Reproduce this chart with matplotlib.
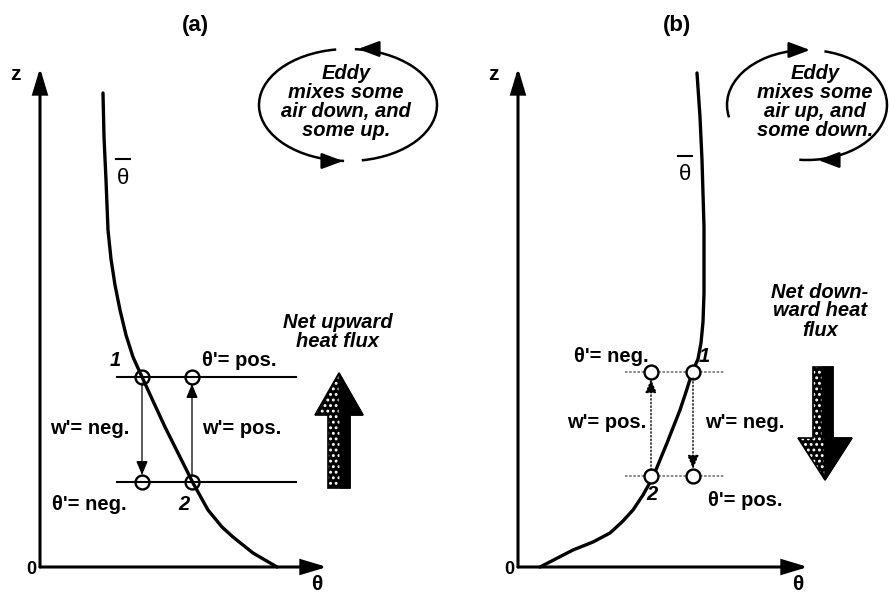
import numpy as np
import matplotlib
matplotlib.use('Agg')
import matplotlib.pyplot as plt
from matplotlib.patches import Arc, Polygon, FancyArrowPatch

plt.rcParams['font.family'] = ['Liberation Sans', 'DejaVu Sans']
plt.rcParams['hatch.linewidth'] = 1.3

# --- data (theta, z in panel units, origin at axis corner) ---
curve_a_theta = [63, 64, 66, 68, 71, 75, 80, 86, 93, 102, 113, 125, 139, 153, 168, 182, 193, 213, 237]
curve_a_z = [474, 430, 387, 337, 308, 282, 257, 232, 210, 190, 166, 140, 112, 84, 57, 40, 30, 14, 0]
curve_b_theta = [179, 182, 184, 186, 186, 185, 183, 180, 174, 168, 162, 149, 135, 125, 115, 104, 92, 75, 55, 22]
curve_b_z = [494, 450, 407, 340, 274, 245, 224, 208, 194, 175, 157, 124, 90, 72, 57, 45, 34, 25, 17, 0]

levels_a = [190, 85]          # z of parcel levels, panel (a)
parcels_a = [102, 152]        # theta of parcels, panel (a)
levels_b = [195, 91]
parcels_b = [133, 175]

titles = ['(a)', '(b)']
eddy_text = ['Eddy\nmixes some\nair down, and\nsome up.',
             'Eddy\nmixes some\nair up, and\nsome down.']
flux_text = ['Net upward\nheat flux', 'Net down-\nward heat\nflux']

W, H = 889, 597
fig = plt.figure(figsize=(W / 100, H / 100), dpi=100)
ax_a = fig.add_axes([0, 0, 440 / W, 1])
ax_b = fig.add_axes([440 / W, 0, 449 / W, 1])
ax_a.set_xlim(-40, 400)
ax_b.set_xlim(-78, 371)
for ax in (ax_a, ax_b):
    ax.set_ylim(-30, 567)
    ax.axis('off')

FS = 14.5
bi = dict(fontweight='bold', fontstyle='italic', fontsize=FS)
bold = dict(fontweight='bold', fontsize=FS)
small_head = dict(arrowstyle='-|>,head_length=0.6,head_width=0.25', color='black',
                  mutation_scale=14, shrinkA=0, shrinkB=0)


def axes_arrows(ax, xtip, ztip):
    for end in [(xtip, 0), (0, ztip)]:
        ax.add_patch(FancyArrowPatch((0, 0), end, arrowstyle='-|>,head_length=1.0,head_width=0.3',
                                     mutation_scale=15, lw=2.2, color='black',
                                     shrinkA=0, shrinkB=0, joinstyle='miter'))
    ax.text(-25, 492, 'z', ha='center', va='center', fontweight='bold', fontsize=15)
    ax.text(-9, -2, '0', ha='center', va='center', fontweight='bold', fontsize=13)
    ax.text(xtip - 10, -18, 'θ', ha='center', va='center', fontsize=15, fontweight='bold')


def eddy(ax, cx, cz, w, h, arcs, heads, text, dx):
    for t1, t2 in arcs:
        ax.add_patch(Arc((cx, cz), w, h, theta1=t1, theta2=t2, lw=1.8, color='black'))
    for (x0, z0), (x1, z1) in heads:
        ax.annotate('', xy=(x1, z1), xytext=(x0, z0),
                    arrowprops=dict(arrowstyle='-|>,head_length=0.8,head_width=0.3',
                                    color='black', lw=1.8, mutation_scale=16,
                                    shrinkA=0, shrinkB=0))
    ax.text(cx + dx, cz + 3, text, ha='center', va='center', linespacing=0.98, **bi)


def big_arrow(ax, x0, x1, hx0, hx1, ztail, zbase, ztip, xsplit):
    xm = (hx0 + hx1) / 2
    pts = [(x0, ztail), (x0, zbase), (hx0, zbase), (xm, ztip), (hx1, zbase), (x1, zbase), (x1, ztail)]
    ax.add_patch(Polygon(pts, closed=True, facecolor='black', edgecolor='none', lw=0))
    ax.add_patch(Polygon(pts, closed=True, facecolor='none', edgecolor='white',
                         hatch='...', lw=0))
    dark = [(xsplit, ztail), (xsplit, zbase), (xm + (xsplit - xm) * 0.3, zbase), (xm, ztip),
            (hx1, zbase), (x1, zbase), (x1, ztail)]
    ax.add_patch(Polygon(dark, closed=True, facecolor='black', edgecolor='black', lw=0.8))
    ax.add_patch(Polygon(pts, closed=True, facecolor='none', edgecolor='black', lw=1.2))


def theta_bar(ax, x, z):
    ax.text(x, z, 'θ', ha='center', va='center', fontsize=16)
    ax.plot([x - 7, x + 7], [z + 19, z + 19], color='black', lw=1.5)


# ---------------- panel (a) ----------------
ax = ax_a
ax.text(155, 542, titles[0], ha='center', va='center', fontweight='bold', fontsize=16)
axes_arrows(ax, 287, 499)
ax.plot(curve_a_theta, curve_a_z, color='black', lw=2.4, solid_capstyle='round',
        solid_joinstyle='round')
theta_bar(ax, 83, 389)
for z in levels_a:
    ax.plot([77, 256], [z, z], color='black', lw=1.5)
    ax.plot(parcels_a, [z, z], 'o', ms=10, mfc='none', mec='black', mew=1.7)
ax.annotate('', xy=(parcels_a[0], levels_a[1] + 7), xytext=(parcels_a[0], levels_a[0] - 6),
            arrowprops=dict(lw=0.9, **small_head))
ax.annotate('', xy=(parcels_a[1], levels_a[0] - 7), xytext=(parcels_a[1], levels_a[1] + 6),
            arrowprops=dict(lw=0.9, **small_head))
ax.text(75, 206, '1', ha='center', va='center', **bi)
ax.text(144, 62, '2', ha='center', va='center', **bi)
ax.text(162, 206, "θ'= pos.", ha='left', va='center', **bold)
ax.text(10, 139, "w'= neg.", ha='left', va='center', **bold)
ax.text(162, 139, "w'= pos.", ha='left', va='center', **bold)
ax.text(12, 62, "θ'= neg.", ha='left', va='center', **bold)
ax.text(298, 235, flux_text[0], ha='center', va='center', linespacing=1.0, **bi)
big_arrow(ax, 288, 310, 275, 323, 79, 152, 194, 300)
eddy(ax, 308, 462, 178, 112, [(284, 443), (102, 266)],
     [((328, 518), (318, 518)), ((294, 406), (303, 406))], eddy_text[0], -2)

# ---------------- panel (b) ----------------
ax = ax_b
ax.text(159, 542, titles[1], ha='center', va='center', fontweight='bold', fontsize=16)
axes_arrows(ax, 290, 499)
ax.plot(curve_b_theta, curve_b_z, color='black', lw=2.4, solid_capstyle='round',
        solid_joinstyle='round')
theta_bar(ax, 167, 392)
for z in levels_b:
    ax.plot([107, 207], [z, z], color='0.45', lw=1.2, ls=(0, (1.5, 1)))
    ax.plot(parcels_b, [z, z], 'o', ms=10, mfc='white', mec='black', mew=1.7)
ax.annotate('', xy=(parcels_b[0], levels_b[0] - 7), xytext=(parcels_b[0], levels_b[1] + 6),
            arrowprops=dict(lw=1.0, ls=':', **small_head))
ax.annotate('', xy=(parcels_b[1], levels_b[1] + 7), xytext=(parcels_b[1], levels_b[0] - 6),
            arrowprops=dict(lw=1.0, ls=':', **small_head))
ax.text(186, 211, '1', ha='center', va='center', **bi)
ax.text(134, 72, '2', ha='center', va='center', **bi)
ax.text(131, 211, "θ'= neg.", ha='right', va='center', **bold)
ax.text(128, 145, "w'= pos.", ha='right', va='center', **bold)
ax.text(187, 145, "w'= neg.", ha='left', va='center', **bold)
ax.text(190, 67, "θ'= pos.", ha='left', va='center', **bold)
ax.text(302, 256, flux_text[1], ha='center', va='center', linespacing=1.0, **bi)
big_arrow(ax, 295, 315, 280, 334, 200, 129, 87, 304)
eddy(ax, 289, 462, 160, 110, [(97.5, 189), (-98, 72)],
     [((283, 517), (292, 517)), ((308, 407), (300, 407))], eddy_text[1], 8)

fig.savefig('out.png', dpi=100)
